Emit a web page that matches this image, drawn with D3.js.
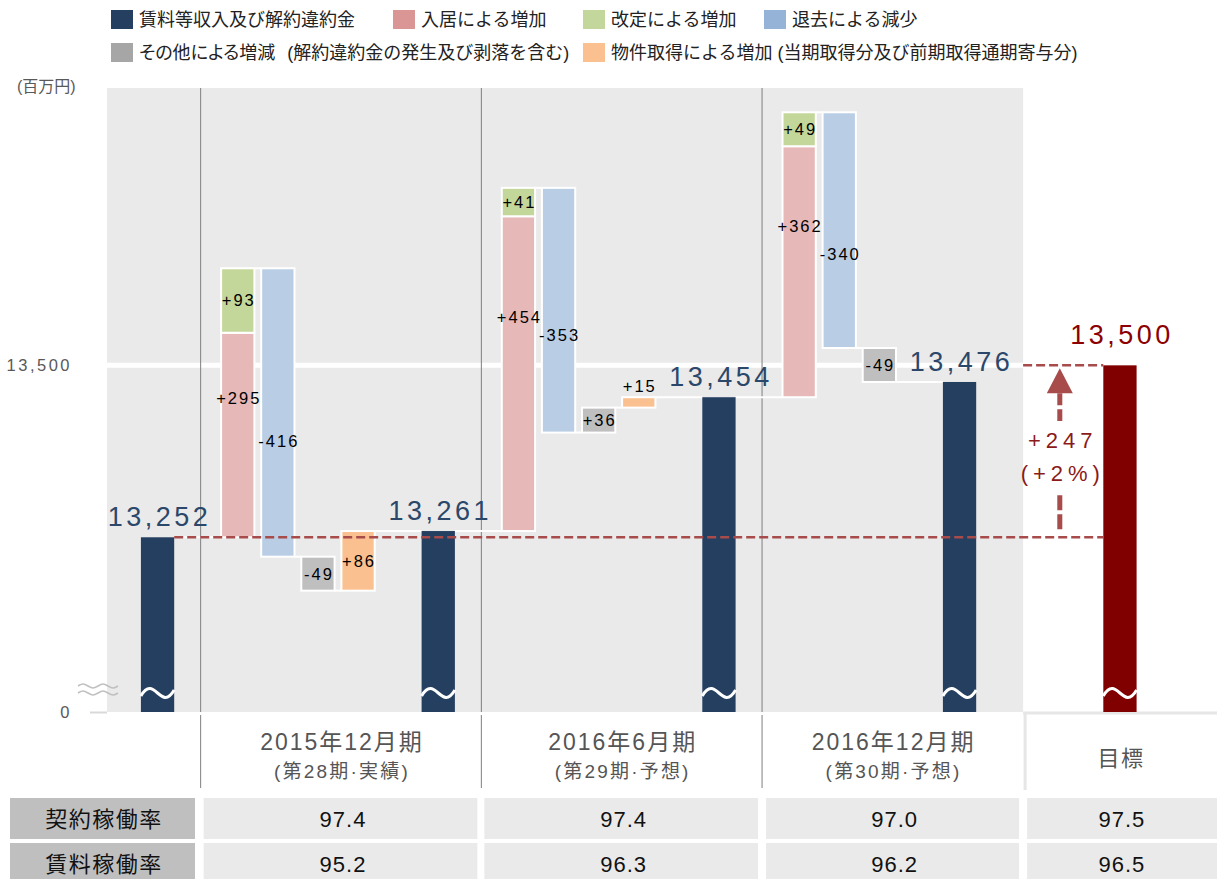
<!DOCTYPE html>
<html>
<head>
<meta charset="utf-8">
<script src="https://d3js.org/d3.v7.min.js"></script>
<style>
body { margin: 0; background: #fff; }
text { font-family: "Liberation Sans", Arial, "Noto Sans CJK JP", sans-serif; white-space: pre; }
</style>
</head>
<body>
<div id="chart"></div>
<script>
// ---- data ----
var periods = ["2015年12月期", "2016年6月期", "2016年12月期"];
var periodNotes = ["(第28期·実績)", "(第29期·予想)", "(第30期·予想)"];
var totals = [13252, 13261, 13454, 13476];
var moveIn = [295, 454, 362];
var revision = [93, 41, 49];
var moveOut = [-416, -353, -340];
var others = [-49, 36, -49];
var acquisition = [86, 15, null];
var target = 13500;
var targetName = "目標";
var gapText = ["+247", "(+2%)"];
var rowNames = ["契約稼働率", "賃料稼働率"];
var contractRate = ["97.4", "97.4", "97.0", "97.5"];
var rentRate = ["95.2", "96.3", "96.2", "96.5"];
var yTicks = [13000, 13500];
var legendKeys = ["total", "in", "rev", "out", "other", "acq"];
var legendNames = ["賃料等収入及び解約違約金", "入居による増加", "改定による増加", "退去による減少",
  "その他による増減 (解約違約金の発生及び剥落を含む)", "物件取得による増加 (当期取得分及び前期取得通期寄与分)"];

// ---- styles ----
var barColor = {total: "#243f60", "in": "#e6b9b8", rev: "#c4d79b", out: "#b9cde5", other: "#bfbfbf", acq: "#fac090", target: "#800000"};
var legendColor = {total: "#243f60", "in": "#d99694", rev: "#c3d69b", out: "#95b3d7", other: "#a6a6a6", acq: "#fac090"};
var redLine = "#a84b4b";

var W = 1217, H = 879;
var svg = d3.select("#chart").append("svg").attr("width", W).attr("height", H);

var y = d3.scaleLinear().domain([13000, 13900]).range([712, 88]);
var x = d3.scaleBand().domain(d3.range(25)).range([137.5, 1140]).paddingInner(0.17).paddingOuter(0.085);
var bw = x.bandwidth();
var plotLeft = 107, plotTop = y(13900), plotBottom = y(13000);

// build waterfall steps
var bars = [], links = [];
var slot = 0;
totals.forEach(function(t, i) {
  bars.push({type: "total", slot: slot, lo: 13000, hi: t, v: t});
  if (i === periods.length) return;
  var run = t, prev = slot;
  slot += 2;
  links.push({a: prev, b: slot, level: run});
  bars.push({type: "in", slot: slot, lo: run, hi: run + moveIn[i], v: moveIn[i]}); run += moveIn[i];
  bars.push({type: "rev", slot: slot, lo: run, hi: run + revision[i], v: revision[i]}); run += revision[i];
  var steps = [["out", moveOut[i]], ["other", others[i]], ["acq", acquisition[i]]];
  steps.forEach(function(s) {
    if (s[1] == null) return;
    prev = slot; slot += 1;
    links.push({a: prev, b: slot, level: run});
    bars.push({type: s[0], slot: slot, lo: Math.min(run, run + s[1]), hi: Math.max(run, run + s[1]), v: s[1]});
    run += s[1];
  });
  prev = slot; slot += 2;
  links.push({a: prev, b: slot, level: run});
});
var targetSlot = slot + 4;
bars.push({type: "target", slot: targetSlot, lo: 13000, hi: target, v: target});

var grayEnd = x(22);
var sepX = [1, 8, 15].map(function(s) { return x(s) + bw / 2 + 3; });

// ---- legend ----
var legPos = [[111, 10], [393, 10], [583, 10], [764, 10], [111, 43], [583, 43]];
var leg = svg.append("g").selectAll("g").data(legendKeys).enter().append("g")
  .attr("transform", function(d, i) { return "translate(" + legPos[i][0] + "," + legPos[i][1] + ")"; });
leg.append("rect").attr("width", 22).attr("height", 19).attr("fill", function(d) { return legendColor[d]; });
var legText = leg.append("text").attr("x", 28).attr("y", 16).attr("font-size", 18).attr("fill", "#222");
legText.each(function(d, i) {
  var parts = legendNames[i].split(" (");
  var t = d3.select(this);
  t.append("tspan").style("font-feature-settings", d === "other" ? "'palt'" : null).text(parts[0]);
  if (parts[1]) t.append("tspan").attr("dx", d === "other" ? 12 : 5).text("(" + parts[1]);
});

svg.append("text").attr("x", 17).attr("y", 92).attr("font-size", 16).attr("fill", "#595959").text("(百万円)");

// ---- plot background ----
svg.append("rect").attr("x", plotLeft).attr("y", plotTop).attr("width", grayEnd - plotLeft)
  .attr("height", plotBottom - plotTop).attr("fill", "#eaeaea");

svg.append("line").attr("x1", plotLeft).attr("x2", grayEnd).attr("y1", y(13500)).attr("y2", y(13500))
  .attr("stroke", "#fff").attr("stroke-width", 5);

// axis
var axis = d3.axisLeft(y).tickValues(yTicks).tickSize(17).tickPadding(18)
  .tickFormat(function(d) { return d === 13000 ? "0" : d3.format(",")(d); });
var ag = svg.append("g").attr("transform", "translate(" + plotLeft + ",0)").call(axis);
ag.select(".domain").remove();
ag.selectAll(".tick line").attr("stroke", function(d) { return d === 13000 ? "#d9d9d9" : "#fff"; }).attr("stroke-width", 2);
ag.selectAll(".tick text").attr("font-size", 16.5).attr("fill", "#595959").attr("letter-spacing", 2.5)
  .attr("font-family", "'Liberation Sans', Arial, sans-serif");

// axis break mark
var wave = d3.line().curve(d3.curveBasis);
[-4, 3].forEach(function(off) {
  var pts = d3.range(0, 9).map(function(k) { return [78 + k * 5, plotBottom - 22 + off + (k % 2 ? -3 : 3) * (k % 4 === 1 ? 1 : k % 4 === 3 ? -1 : 0)]; });
  svg.append("path").attr("d", wave(pts)).attr("fill", "none").attr("stroke", "#c0c0c0").attr("stroke-width", 1.5);
});

// separators
var sep = svg.append("g").attr("stroke", "#7f7f7f").attr("stroke-width", 1);
sepX.forEach(function(sx) {
  sep.append("line").attr("x1", sx).attr("x2", sx).attr("y1", plotTop).attr("y2", plotBottom);
  sep.append("line").attr("x1", sx).attr("x2", sx).attr("y1", plotBottom + 3).attr("y2", 788);
});
svg.append("line").attr("x1", grayEnd + 2).attr("x2", grayEnd + 2).attr("y1", plotBottom).attr("y2", 790)
  .attr("stroke", "#e6e6e6").attr("stroke-width", 3);
svg.append("line").attr("x1", grayEnd).attr("x2", W).attr("y1", plotBottom + 1).attr("y2", plotBottom + 1)
  .attr("stroke", "#e6e6e6").attr("stroke-width", 3);

// connectors
svg.append("g").selectAll("line").data(links).enter().append("line")
  .attr("x1", function(d) { return x(d.a) + bw; }).attr("x2", function(d) { return x(d.b); })
  .attr("y1", function(d) { return y(d.level); }).attr("y2", function(d) { return y(d.level); })
  .attr("stroke", "#fff").attr("stroke-width", 2);

// bars
svg.append("g").selectAll("rect").data(bars).enter().append("rect")
  .attr("x", function(d) { return x(d.slot); })
  .attr("width", bw)
  .attr("y", function(d) { return y(d.hi); })
  .attr("height", function(d) { return y(d.lo) - y(d.hi); })
  .attr("fill", function(d) { return barColor[d.type]; })
  .attr("stroke", function(d) { return d.type === "total" || d.type === "target" ? "none" : "#fff"; })
  .attr("stroke-width", 2);

// break marks on the full bars
var full = bars.filter(function(d) { return d.type === "total" || d.type === "target"; });
svg.append("g").selectAll("path").data(full).enter().append("path")
  .attr("d", function(d) {
    var x0 = x(d.slot), yc = plotBottom - 19;
    return "M" + x0 + "," + (yc + 3) + " C" + (x0 + bw * 0.4) + "," + (yc - 20) + " " + (x0 + bw * 0.6) + "," + (yc + 20) + " " + (x0 + bw) + "," + (yc - 3);
  })
  .attr("fill", "none").attr("stroke", "#fff").attr("stroke-width", 3);

// red dashed reference lines and arrow
var ax = (x(22) + x(23) + bw) / 2;
svg.append("line").attr("x1", x(0) + bw).attr("x2", x(targetSlot)).attr("y1", y(totals[0])).attr("y2", y(totals[0]))
  .attr("stroke", redLine).attr("stroke-width", 2.5).attr("stroke-dasharray", "9,4");
svg.append("line").attr("x1", grayEnd).attr("x2", x(targetSlot)).attr("y1", y(target)).attr("y2", y(target))
  .attr("stroke", redLine).attr("stroke-width", 2.5).attr("stroke-dasharray", "9,4");
svg.append("path")
  .attr("d", "M" + ax + "," + (y(target) + 3) + " L" + (ax + 13) + "," + (y(target) + 28) + " L" + (ax - 13) + "," + (y(target) + 28) + "Z")
  .attr("fill", redLine);
svg.append("line").attr("x1", ax).attr("x2", ax).attr("y1", y(target) + 28).attr("y2", 421)
  .attr("stroke", redLine).attr("stroke-width", 5).attr("stroke-dasharray", "12,4");
svg.append("line").attr("x1", ax).attr("x2", ax).attr("y1", y(totals[0]) - 8).attr("y2", 493)
  .attr("stroke", redLine).attr("stroke-width", 5).attr("stroke-dasharray", "15,4");
svg.append("g").selectAll("text").data(gapText).enter().append("text")
  .attr("x", ax + 3).attr("y", function(d, i) { return 448 + i * 33; })
  .attr("text-anchor", "middle").attr("font-size", 22).attr("letter-spacing", 5)
  .attr("fill", "#8b1a1a").text(function(d) { return d; });

// total labels
svg.append("g").selectAll("text").data(full).enter().append("text")
  .attr("x", function(d) { return x(d.slot) + bw / 2 + 2; })
  .attr("y", function(d) { return y(d.hi) - (d.type === "target" ? 21 : 11); })
  .attr("text-anchor", "middle").attr("font-size", 27).attr("letter-spacing", 3.5)
  .attr("fill", function(d) { return d.type === "target" ? "#8b0000" : "#2b4769"; })
  .text(function(d) { return d3.format(",")(d.v); });

// change labels
var changes = bars.filter(function(d) { return d.type !== "total" && d.type !== "target"; });
function labelY(d) {
  if (d.type === "in") return y(d.lo + 0.68 * (d.hi - d.lo));
  if (d.type === "out") return y(d.hi - 0.6 * (d.hi - d.lo));
  if (y(d.lo) - y(d.hi) < 16) return y(d.hi) - 11;
  return (y(d.lo) + y(d.hi)) / 2;
}
svg.append("g").selectAll("text").data(changes).enter().append("text")
  .attr("x", function(d) { return x(d.slot) + bw / 2 + 1; })
  .attr("y", labelY).attr("dy", "0.36em")
  .attr("text-anchor", "middle").attr("font-size", 16.5).attr("letter-spacing", 2).attr("fill", "#000")
  .text(function(d) { return (d.v > 0 ? "+" : "") + d.v; });

// category labels
var catX = [0, 1, 2].map(function(i) { return (sepX[i] + (i < 2 ? sepX[i + 1] : grayEnd)) / 2; });
var cat = svg.append("g").attr("text-anchor", "middle").attr("fill", "#555");
periods.forEach(function(p, i) {
  cat.append("text").attr("x", catX[i] + 1).attr("y", 750).attr("font-size", 23).attr("letter-spacing", 2).text(p);
  cat.append("text").attr("x", catX[i] + 1).attr("y", 778).attr("font-size", 19).attr("letter-spacing", 2.2).text(periodNotes[i]);
});
cat.append("text").attr("x", x(targetSlot) + bw / 2 + 1).attr("y", 766).attr("font-size", 22).attr("letter-spacing", 1.5).text(targetName);

// rate table
var colL = [sepX[0] + 3, sepX[1] + 3, sepX[2] + 4, grayEnd + 4];
var colR = [sepX[1] - 4, sepX[2] - 4, grayEnd - 4, W + 5];
var valX = [catX[0], catX[1], catX[2], x(targetSlot) + bw / 2];
var rows = [contractRate, rentRate];
rows.forEach(function(vals, r) {
  var ty = 798 + r * 45;
  svg.append("rect").attr("x", 10).attr("y", ty).attr("width", 185).attr("height", 41).attr("fill", "#bfbfbf");
  svg.append("text").attr("x", 104).attr("y", ty + 29).attr("text-anchor", "middle").attr("font-size", 22)
    .attr("letter-spacing", 1.5).attr("fill", "#111").text(rowNames[r]);
  vals.forEach(function(v, c) {
    svg.append("rect").attr("x", colL[c]).attr("y", ty).attr("width", colR[c] - colL[c]).attr("height", 41).attr("fill", "#eaeaea");
    svg.append("text").attr("x", valX[c] + 2).attr("y", ty + 29)
      .attr("text-anchor", "middle").attr("font-size", 22).attr("letter-spacing", 1).attr("fill", "#111").text(v);
  });
});
</script>
</body>
</html>
